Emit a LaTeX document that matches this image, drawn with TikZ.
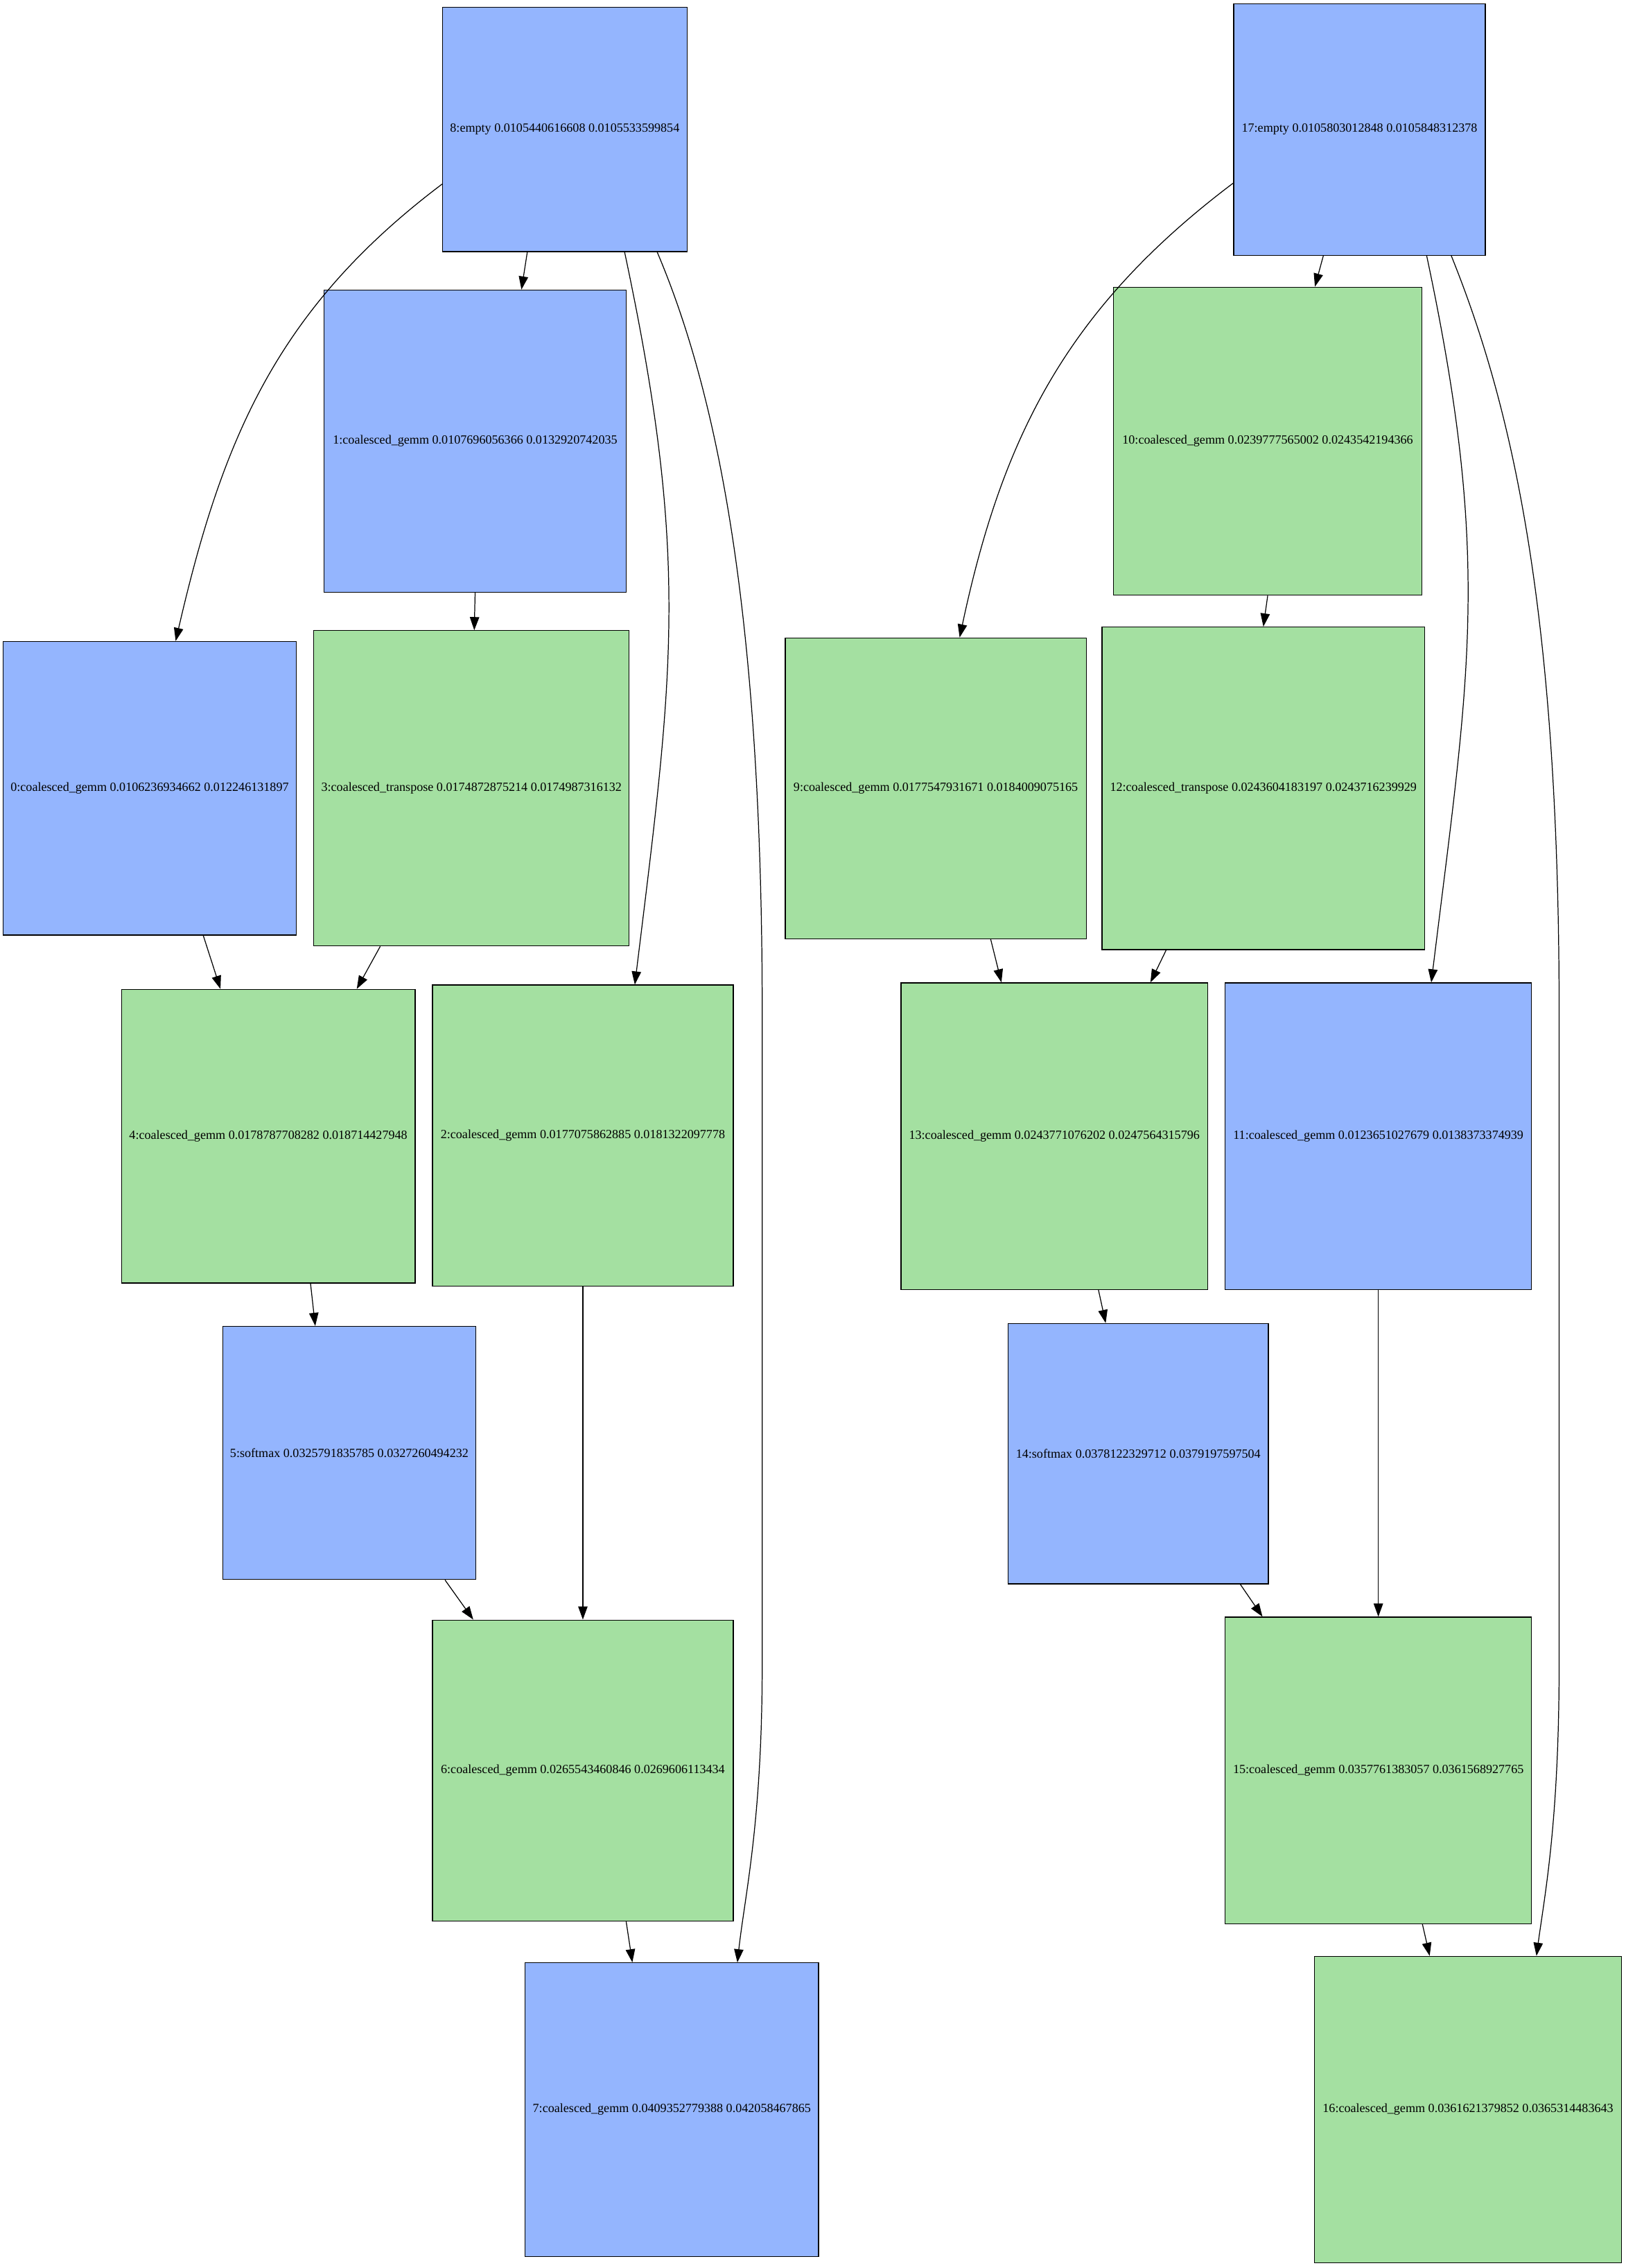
\documentclass[tikz,border=0pt]{standalone}
\usepackage{fontspec}
\setmainfont{Liberation Serif}
\usetikzlibrary{arrows.meta}
\definecolor{opblue}{HTML}{94B5FE}
\definecolor{opgreen}{HTML}{A4E0A1}

\begin{document}
\begin{tikzpicture}[x=0.4173mm, y=-0.4173mm,
    every node/.style={font=\fontsize{10.3}{12}\selectfont},
    blueop/.style={rectangle, draw, line width=0.7pt, fill=opblue, minimum size=#1*0.4173mm, inner sep=0pt},
    greenop/.style={rectangle, draw, line width=0.7pt, fill=opgreen, minimum size=#1*0.4173mm, inner sep=0pt},
    dep/.style={-{Triangle[length=3.8mm, width=2.7mm]}, line width=0.7pt}]
      \useasboundingbox (0,0) rectangle (1124,1568);

      % first graph
      \node[blueop=169] (n8) at (390.5,89.5) {8:empty 0.0105440616608 0.0105533599854};
      \node[blueop=209] (n1) at (328.5,305) {1:coalesced\_gemm 0.0107696056366 0.0132920742035};
      \node[blueop=203] (n0) at (103.5,545) {0:coalesced\_gemm 0.0106236934662 0.012246131897};
      \node[greenop=218] (n3) at (326,545) {3:coalesced\_transpose 0.0174872875214 0.0174987316132};
      \node[greenop=203] (n4) at (185.5,785.5) {4:coalesced\_gemm 0.0178787708282 0.018714427948};
      \node[greenop=208] (n2) at (403,785) {2:coalesced\_gemm 0.0177075862885 0.0181322097778};
      \node[blueop=175] (n5) at (241.5,1004.5) {5:softmax 0.0325791835785 0.0327260494232};
      \node[greenop=208] (n6) at (403,1224) {6:coalesced\_gemm 0.0265543460846 0.0269606113434};
      \node[blueop=203] (n7) at (464.5,1458.5) {7:coalesced\_gemm 0.0409352779388 0.042058467865};

      \draw[dep] (n8.204.5) to[out=217, in=77] (n0.80.8);
      \draw[dep] (n8.-107.4) -- (n1.73.7);
      \draw[dep] (n8.-64.4) to[out=-78, in=83, looseness=1.1] (n2.71.9);
      \draw[dep] (n8.-53.5) .. controls (495,270) and (527,420) .. (527,700) -- (527,1150)
            .. controls (527,1260) and (515,1310) .. (n7.66.8);
      \draw[dep] (n1.-90) -- (n3.89);
      \draw[dep] (n0.-70.3) -- (n4.108.8);
      \draw[dep] (n3.-120.4) -- (n4.59.2);
      \draw[dep] (n4.-74.8) -- (n5.105);
      \draw[dep] (n2.-90) -- (n6.90);
      \draw[dep] (n5.-53.2) -- (n6.126.9);
      \draw[dep] (n6.-74.9) -- (n7.105.2);

      % second graph
      \node[blueop=174] (n17) at (940,89.5) {17:empty 0.0105803012848 0.0105848312378};
      \node[greenop=213] (n10) at (876.5,305) {10:coalesced\_gemm 0.0239777565002 0.0243542194366};
      \node[greenop=208] (n9) at (647,545) {9:coalesced\_gemm 0.0177547931671 0.0184009075165};
      \node[greenop=223] (n12) at (873.5,545) {12:coalesced\_transpose 0.0243604183197 0.0243716239929};
      \node[greenop=212] (n13) at (729,785.5) {13:coalesced\_gemm 0.0243771076202 0.0247564315796};
      \node[blueop=212] (n11) at (953,785.5) {11:coalesced\_gemm 0.0123651027679 0.0138373374939};
      \node[blueop=180] (n14) at (787,1005) {14:softmax 0.0378122329712 0.0379197597504};
      \node[greenop=212] (n15) at (953,1224) {15:coalesced\_gemm 0.0357761383057 0.0361568927765};
      \node[greenop=212] (n16) at (1015,1458.5) {16:coalesced\_gemm 0.0361621379852 0.0365314483643};

      \draw[dep] (n17.203.9) to[out=217, in=78] (n9.81.8);
      \draw[dep] (n17.-106.7) -- (n10.73);
      \draw[dep] (n17.-62.5) to[out=-78, in=83, looseness=1.1] (n11.71.6);
      \draw[dep] (n17.-54.8) .. controls (1045,280) and (1078,420) .. (1078,700) -- (1078,1150)
            .. controls (1078,1260) and (1068,1310) .. (n16.66.9);
      \draw[dep] (n10.-90) -- (n12.90);
      \draw[dep] (n9.-70.4) -- (n13.109.3);
      \draw[dep] (n12.-121.3) -- (n13.58.4);
      \draw[dep] (n13.-74.1) -- (n14.104.3);
      \draw[dep] (n11.-90) -- (n15.90);
      \draw[dep] (n14.-52.5) -- (n15.127);
      \draw[dep] (n15.-74.2) -- (n16.104.4);
\end{tikzpicture}
\end{document}
